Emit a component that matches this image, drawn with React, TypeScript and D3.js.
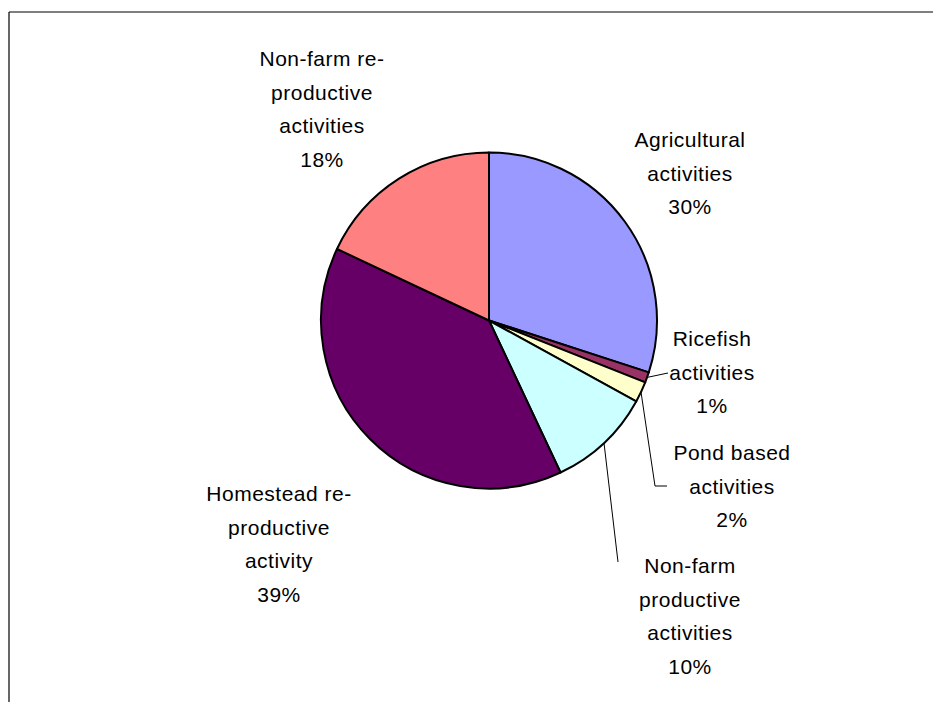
import React from "react";
import * as d3 from "d3";

// Share of time spent on each activity, in percent, clockwise from 12 o'clock
const categories = [
  "Agricultural activities",
  "Ricefish activities",
  "Pond based activities",
  "Non-farm productive activities",
  "Homestead re-productive activity",
  "Non-farm re-productive activities",
];
const values = [30, 1, 2, 10, 39, 18];
const colors = ["#9999FF", "#993366", "#FFFFCC", "#CCFFFF", "#660066", "#FF8080"];

// Wrapped label text for each slice (the percentage line is appended)
const labelLines = [
  ["Agricultural", "activities"],
  ["Ricefish", "activities"],
  ["Pond based", "activities"],
  ["Non-farm", "productive", "activities"],
  ["Homestead re-", "productive", "activity"],
  ["Non-farm re-", "productive", "activities"],
];

const W = 934;
const H = 702;
const CX = 489;
const CY = 320.5;
const R = 168;
const FONT = 21;
const LINE = 33.5;

// Label block anchors: centre x, centre y of first line
const labelPos: [number, number][] = [
  [690, 140],
  [712, 339],
  [732, 453],
  [690, 566],
  [279, 494],
  [322, 59],
];

// Leader-line elbows for the small slices (null = no leader)
const leaderEnds: ([number, number][] | null)[] = [
  null,
  [[668, 373]],
  [[655, 486], [667, 486]],
  [[618, 562]],
  null,
  null,
];

export default function App() {
  const pie = d3.pie<number>().sort(null).value((d) => d);
  const arcs = pie(values);
  const arc = d3.arc<d3.PieArcDatum<number>>().innerRadius(0).outerRadius(R);
  const total = d3.sum(values);

  return (
    <svg
      width={W}
      height={H}
      style={{ position: "absolute", left: 0, top: 0, background: "#fff" }}
      fontFamily="'Liberation Sans', Arial, sans-serif"
    >
      <rect x={0} y={0} width={W} height={H} fill="#fff" />
      {/* chart frame: only top and left edges fall inside the view */}
      <line x1={9} y1={12} x2={933} y2={12} stroke="#000" strokeWidth={1.2} />
      <line x1={9} y1={12} x2={9} y2={H} stroke="#000" strokeWidth={1.2} />

      <g transform={`translate(${CX},${CY})`}>
        {arcs.map((a, i) => (
          <path
            key={categories[i]}
            d={arc(a) || ""}
            fill={colors[i]}
            stroke="#000"
            strokeWidth={2}
            strokeLinejoin="round"
          />
        ))}
      </g>

      {arcs.map((a, i) => {
        const ends = leaderEnds[i];
        if (!ends) return null;
        const mid = (a.startAngle + a.endAngle) / 2;
        const sx = CX + R * Math.sin(mid);
        const sy = CY - R * Math.cos(mid);
        const pts: [number, number][] = [[sx, sy], ...ends];
        return (
          <path
            key={"leader" + i}
            d={d3.line()(pts) || ""}
            fill="none"
            stroke="#000"
            strokeWidth={1}
          />
        );
      })}

      {labelLines.map((lines, i) => {
        const pct = Math.round((values[i] / total) * 100) + "%";
        const all = [...lines, pct];
        const [lx, ly] = labelPos[i];
        return (
          <text
            key={"label" + i}
            x={lx}
            y={ly}
            textAnchor="middle"
            fontSize={FONT}
            fill="#000"
            letterSpacing={0.5}
          >
            {all.map((t, j) => (
              <tspan key={j} x={lx} y={ly + j * LINE} dy="0.35em">
                {t}
              </tspan>
            ))}
          </text>
        );
      })}
    </svg>
  );
}
